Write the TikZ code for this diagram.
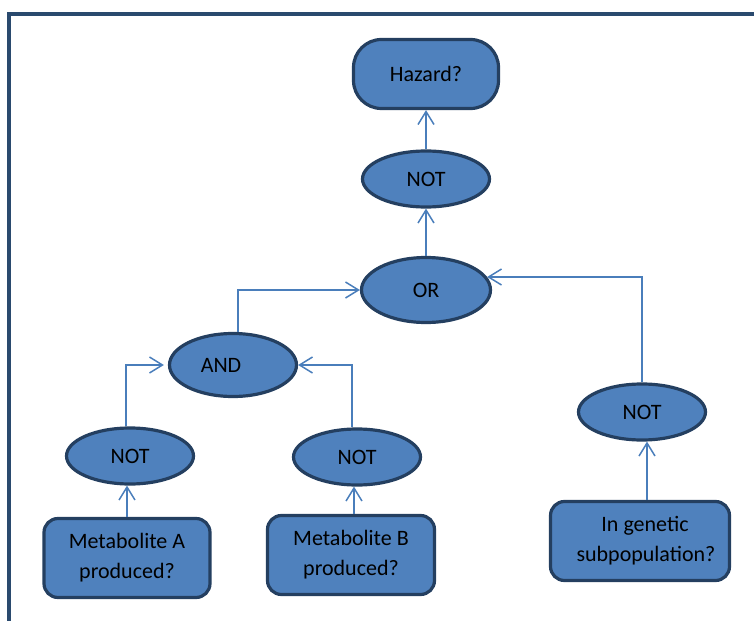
\documentclass[tikz,border=0pt]{standalone}
\usepackage{fontspec}
\setmainfont{Carlito}
\usetikzlibrary{shapes.geometric,arrows.meta}
\definecolor{boxfill}{HTML}{4F81BD}
\definecolor{boxline}{HTML}{243F60}
\definecolor{linkblue}{HTML}{4A7EBB}
\definecolor{framenavy}{HTML}{2A4A6E}

\begin{document}
\begin{tikzpicture}[x=1bp, y=-1bp,
    gate/.style={ellipse, fill=boxfill, draw=boxline, line width=3.2bp, inner sep=0pt, minimum width=127bp, minimum height=56bp, font=\fontsize{22bp}{30bp}\selectfont},
    question/.style={rectangle, rounded corners=14bp, fill=boxfill, draw=boxline, line width=3.2bp, inner sep=0pt, align=center, font=\fontsize{22bp}{30bp}\selectfont}]
    \useasboundingbox (0,0) rectangle (754,621);
    \draw [framenavy, line width=4bp] (9,621) -- (9,14) -- (754,14);

    \node [question, rounded corners=28bp, minimum width=145bp, minimum height=69bp] (hazard) at (426,74) {Hazard?};

    \node [gate] (nott) at (426,179) {NOT};
    \node [gate, minimum width=129bp, minimum height=65bp] (or) at (426,290) {OR};
    \node [gate, minimum height=63bp] (and) at (233,365) {AND\hspace*{24bp}};

    \node [gate] (notl) at (130,456) {NOT};
    \node [gate] (notm) at (357,457) {NOT};
    \node [gate] (notr) at (642,412) {NOT};

    \begin{scope}[every node/.style={question, minimum height=79bp}]
        \node [minimum width=166bp] (meta) at (127,558) {Metabolite A\\produced?};
        \node [minimum width=167bp] (metb) at (351,555) {Metabolite B\\produced?};
        \node [minimum width=179bp] (gen) at (640,541) {\hspace*{10bp}In genetic\\\hspace*{12bp}subpopulation?};
    \end{scope}

    \begin{scope}[linkblue, line width=1.5bp, -{Straight Barb[length=13bp,width=16bp]}]
        \draw (nott) -- (hazard);
        \draw (or) -- (nott);
        \draw ([xshift=5bp]and.north) |- (or.west);
        \draw (notr.north) |- (or.12);
        \draw ([xshift=-5bp]notm.north) |- (and.east);
        \draw ([xshift=-4bp]notl.north) |- ([xshift=-4bp]and.west);
        \draw (meta.north) -- (meta.north |- notl.south);
        \draw ([xshift=3bp]metb.north) -- ([xshift=3bp]metb.north |- notm.south);
        \draw ([xshift=7bp]gen.north) -- ([xshift=7bp]gen.north |- notr.south);
    \end{scope}
\end{tikzpicture}
\end{document}
